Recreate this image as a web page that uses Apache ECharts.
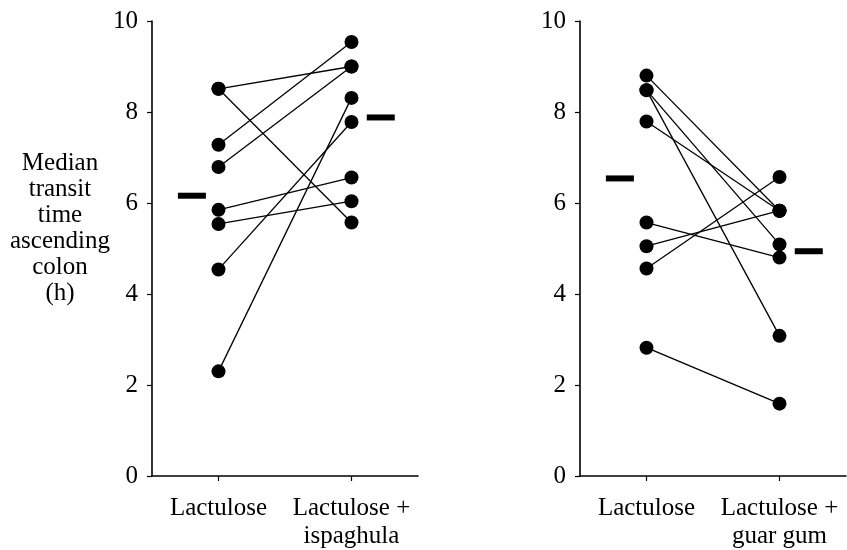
<!DOCTYPE html>
<html>
<head>
<meta charset="utf-8">
<script src="https://cdn.jsdelivr.net/npm/echarts@6/dist/echarts.min.js"></script>
<style>
  html, body { margin: 0; padding: 0; background: #fff; }
  #chart { width: 847px; height: 550px; }
</style>
</head>
<body>
<div id="chart"></div>
<script>
// ---- data ----
const yTicks = [0, 2, 4, 6, 8, 10];
const ispCategories = ['Lactulose', 'Lactulose +\nispaghula'];
const guarCategories = ['Lactulose', 'Lactulose +\nguar gum'];
// individual subjects: lactulose alone -> lactulose + fibre
const ispLactulose = [8.51, 8.51, 7.28, 6.79, 5.85, 5.54, 4.54, 2.30];
const ispCombined  = [9.00, 5.57, 9.54, 9.00, 6.56, 6.04, 7.78, 8.31];
const guarLactulose = [8.80, 8.48, 8.48, 7.79, 5.57, 5.05, 4.56, 2.82];
const guarCombined  = [5.83, 5.09, 3.08, 5.83, 4.80, 5.83, 6.57, 1.59];
// group medians (lactulose, lactulose + fibre)
const ispMedians = [6.16, 7.88];
const guarMedians = [6.54, 4.94];

// ---- layout ----
const font = 'Liberation Serif';
const fs = 25;
const catX = [1, 3];            // positions of the two conditions on the x scale
const medianX = [0.6, 3.44];    // positions of the median dashes

const chart = echarts.init(document.getElementById('chart'), null, { renderer: 'canvas' });

function xAxis(gridIndex, cats) {
  return {
    type: 'value', gridIndex, min: 0, max: 4,
    axisLine: { show: true, lineStyle: { color: '#000', width: 1.6 } },
    axisTick: { show: true, customValues: catX, length: 5, lineStyle: { color: '#000', width: 1.2 } },
    axisLabel: {
      show: true, customValues: catX, margin: 18,
      color: '#000', fontFamily: font, fontSize: fs, lineHeight: 28,
      formatter: v => cats[catX.indexOf(v)] || ''
    },
    splitLine: { show: false }
  };
}
function yAxis(gridIndex) {
  return {
    type: 'value', gridIndex, min: 0, max: 10, interval: 2,
    axisLine: { show: true, lineStyle: { color: '#000', width: 1.6 } },
    axisTick: { show: true, length: 5, lineStyle: { color: '#000', width: 1.2 } },
    axisLabel: {
      color: '#000', fontFamily: font, fontSize: fs, margin: 14,
      customValues: yTicks
    },
    splitLine: { show: false }
  };
}

const series = [];
function addPanel(idx, before, after, medians) {
  before.forEach((b, i) => {
    series.push({
      type: 'line', xAxisIndex: idx, yAxisIndex: idx,
      data: [[catX[0], b], [catX[1], after[i]]],
      symbol: 'circle', symbolSize: 14, showSymbol: true,
      itemStyle: { color: '#000', opacity: 1 },
      lineStyle: { color: '#000', width: 1.3 },
      animation: false, silent: true
    });
  });
  series.push({
    type: 'scatter', xAxisIndex: idx, yAxisIndex: idx,
    data: medians.map((m, i) => [medianX[i], m]),
    symbol: 'rect', symbolSize: [28, 6],
    itemStyle: { color: '#000', opacity: 1 },
    animation: false, silent: true
  });
}
addPanel(0, ispLactulose, ispCombined, ispMedians);
addPanel(1, guarLactulose, guarCombined, guarMedians);

chart.setOption({
  backgroundColor: '#fff',
  animation: false,
  grid: [
    { left: 152, top: 21, width: 266, height: 460 },
    { left: 580, top: 21, width: 266, height: 460 }
  ],
  xAxis: [xAxis(0, ispCategories), xAxis(1, guarCategories)],
  yAxis: [yAxis(0), yAxis(1)],
  graphic: [{
    type: 'text', x: 60, y: 228,
    style: {
      text: 'Median\ntransit\ntime\nascending\ncolon\n(h)',
      fontFamily: font, fontSize: fs, lineHeight: 26,
      fill: '#000', align: 'center', verticalAlign: 'middle'
    }
  }],
  series
});
</script>
</body>
</html>
